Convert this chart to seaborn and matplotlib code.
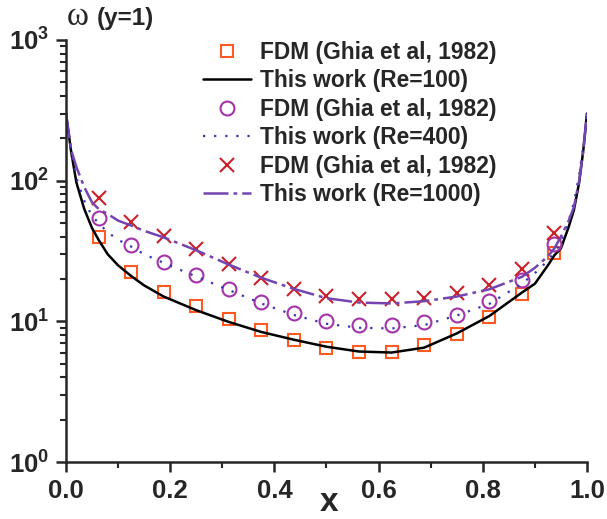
import pandas as pd
import seaborn as sns
import matplotlib.pyplot as plt
from matplotlib.ticker import FixedLocator, MultipleLocator, LogLocator, NullFormatter

# Ghia et al (1982) reference points, wall vorticity at y=1
x_ghia = [0.0625, 0.125, 0.1875, 0.25, 0.3125, 0.375, 0.4375, 0.5,
          0.5625, 0.625, 0.6875, 0.75, 0.8125, 0.875, 0.9375]
w_ghia_100 = [39.7, 22.4, 16.2, 12.8, 10.4, 8.7, 7.4, 6.5,
              6.1, 6.1, 6.8, 8.1, 10.7, 15.6, 30.6]
w_ghia_400 = [54.0, 34.9, 26.4, 21.3, 17.0, 13.7, 11.4, 10.0,
              9.4, 9.4, 9.9, 11.1, 13.9, 19.7, 35.4]
w_ghia_1000 = [75.2, 50.8, 40.4, 32.6, 25.5, 20.3, 17.0, 15.1,
               14.4, 14.4, 14.6, 15.9, 18.1, 23.5, 42.4]

# present results (curves)
x_line = [0.0, 0.01, 0.02, 0.035, 0.05, 0.0625, 0.08, 0.1, 0.125, 0.15, 0.1875,
          0.25, 0.3125, 0.375, 0.4375, 0.5, 0.5625, 0.625, 0.6875, 0.75, 0.8125,
          0.875, 0.9, 0.925, 0.9375, 0.95, 0.965, 0.975, 0.985, 0.993, 1.0]
w_100 = [300, 160, 97, 63, 46, 38, 30, 25, 21, 18, 15.0,
         12.0, 9.9, 8.4, 7.4, 6.6, 6.1, 6.0, 6.5, 8.2, 10.9,
         16.0, 18.5, 25, 29.5, 33, 47, 62, 97, 165, 300]
w_400 = [300, 155, 105, 72, 56, 50, 43, 38, 34, 30, 26,
         20.8, 16.7, 13.4, 11.1, 9.6, 9.0, 8.9, 9.4, 11.0, 13.3,
         18.5, 22, 27, 31, 36, 52, 70, 110, 175, 300]
w_1000 = [300, 165, 125, 90, 70, 63, 58, 52, 48, 44, 39.5,
          32, 25.3, 20.4, 17.0, 14.6, 13.6, 13.4, 13.9, 15.0, 16.9,
          20.7, 24, 29, 33, 40, 52, 65, 100, 165, 300]

ghia = pd.DataFrame({'x': x_ghia, 'Re100': w_ghia_100, 'Re400': w_ghia_400, 'Re1000': w_ghia_1000})
lines = pd.DataFrame({'x': x_line, 'Re100': w_100, 'Re400': w_400, 'Re1000': w_1000})

sns.set_style('ticks')
plt.rcParams['font.family'] = ['Liberation Sans', 'DejaVu Sans']
plt.rcParams['font.weight'] = 'bold'
plt.rcParams['mathtext.fontset'] = 'custom'
plt.rcParams['mathtext.rm'] = 'Liberation Sans:bold'
plt.rcParams['mathtext.bf'] = 'Liberation Sans:bold'

fig = plt.figure(figsize=(6.07, 5.19), dpi=100)
ax = fig.add_axes([0.1087, 0.1098, 0.8583, 0.8132])

sns.lineplot(x='x', y='Re100', data=ghia, ax=ax, linestyle='none', marker='s', markersize=8.5,
             markerfacecolor='none', markeredgecolor='#ff5a22', markeredgewidth=1.5,
             label='FDM (Ghia et al, 1982)')
sns.lineplot(x='x', y='Re100', data=lines, ax=ax, color='black', linewidth=1.8,
             label='This work (Re=100)')
sns.lineplot(x='x', y='Re400', data=ghia, ax=ax, linestyle='none', marker='o', markersize=10,
             markerfacecolor='none', markeredgecolor='#a333a8', markeredgewidth=1.5,
             label='FDM (Ghia et al, 1982) ')
sns.lineplot(x='x', y='Re400', data=lines, ax=ax, color='#3535b5', linewidth=1.6,
             label='This work (Re=400)')
ax.lines[-1].set_dashes((1, 4))
sns.lineplot(x='x', y='Re1000', data=ghia, ax=ax, linestyle='none', marker='x', markersize=10.5,
             markeredgecolor='#cc1f2a', markeredgewidth=1.5,
             label='FDM (Ghia et al, 1982)  ')
sns.lineplot(x='x', y='Re1000', data=lines, ax=ax, color='#7444b0', linewidth=1.8,
             label='This work (Re=1000)')
ax.lines[-1].set_dashes((10, 2, 1.5, 2))

ax.set_yscale('log')
ax.set_xlim(0, 1)
ax.set_ylim(1, 1000)
ax.xaxis.set_major_locator(FixedLocator([0.0, 0.2, 0.4, 0.6, 0.8, 1.0]))
ax.xaxis.set_minor_locator(MultipleLocator(0.1))
ax.set_xticklabels(['0.0', '0.2', '0.4', '0.6', '0.8', '1.0'])
ax.yaxis.set_major_locator(FixedLocator([1, 10, 100, 1000]))
ax.yaxis.set_minor_locator(LogLocator(base=10, subs=range(2, 10)))
ax.yaxis.set_minor_formatter(NullFormatter())
ax.set_yticklabels([r'$\mathbf{10^0}$', r'$\mathbf{10^1}$', r'$\mathbf{10^2}$', r'$\mathbf{10^3}$'])
ax.tick_params(which='major', length=7, width=1.8, labelsize=18.5, pad=5)
ax.tick_params(which='minor', length=4, width=1.5)
ax.set_xlabel('')
ax.set_ylabel('')
sns.despine(ax=ax)
for s in ['left', 'bottom']:
    ax.spines[s].set_linewidth(1.8)

fig.text(329 / 607, 1 / 519, 'x', ha='center', va='bottom', fontsize=24, fontweight='bold')
fig.text(67 / 607, (519 - 25) / 519, 'ω', ha='left', va='baseline', fontsize=24,
         family='Liberation Serif', fontweight='normal')
fig.text(97 / 607, (519 - 25) / 519, '(y=1)', ha='left', va='baseline', fontsize=17.5, fontweight='bold')

ax.legend(loc='upper left', bbox_to_anchor=(203 / 607, (519 - 41) / 519), bbox_transform=fig.transFigure,
          frameon=False, handlelength=2.1, handletextpad=0.4, borderpad=0,
          borderaxespad=0, labelspacing=0.24, prop={'weight': 'bold', 'size': 16.4})

fig.savefig('out.png', dpi=100)
